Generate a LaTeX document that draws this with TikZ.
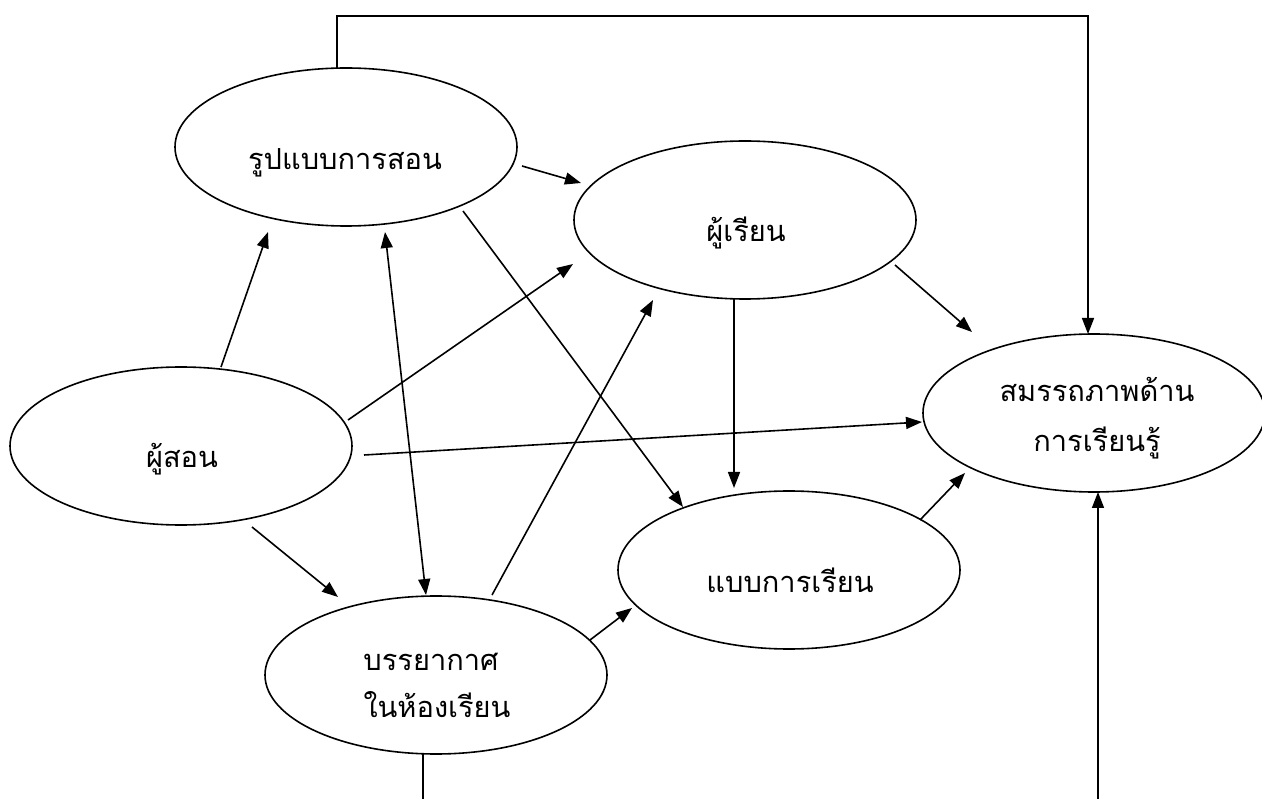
\documentclass[tikz,border=0pt]{standalone}
\usepackage{fontspec}
\newfontfamily\thaifont[Script=Thai]{Loma}
\usetikzlibrary{arrows.meta,shapes.geometric}
\begin{document}
\begin{tikzpicture}[x=1pt,y=-1pt,
  ell/.style={draw, ellipse, line width=1.6pt, minimum width=342pt, minimum height=158pt, inner sep=0pt, outer sep=0pt},
  lbl/.style={anchor=base, inner sep=0pt, font=\thaifont\fontsize{29}{36}\selectfont},
  conn/.style={line width=1.6pt},
  arr/.style={line width=1.6pt, -{Triangle[length=16pt,width=12pt]}},
  darr/.style={line width=1.6pt, {Triangle[length=16pt,width=12pt]}-{Triangle[length=16pt,width=12pt]}}]
\useasboundingbox (0,0) rectangle (1262,799);
\fill[white] (0,0) rectangle (1262,799);

% ellipses
\node[ell] (R) at (346,147) {};
\node[ell] (L) at (745,220) {};
\node[ell] (S) at (181,446) {};
\node[ell] (B) at (436,675) {};
\node[ell] (M) at (789,570) {};
\node[ell] (C) at (1094,413) {};

% labels
\node[lbl] (Rt) at (345,170) {รูปแบบการสอน};
\node[lbl] (Lt) at (746,242) {ผู้เรียน};
\node[lbl] (St) at (182,468) {ผู้สอน};
\node[lbl] (Mt) at (790,592) {แบบการเรียน};
\node[lbl] (Bt1) at (431,670) {บรรยากาศ};
\node[lbl] (Bt2) at (437,717) {ในห้องเรียน};
\node[lbl] (Ct1) at (1097,402) {สมรรถภาพด้าน};
\node[lbl] (Ct2) at (1097,452) {การเรียนรู้};

% connectors
\draw[arr] ([shift={(40,-79)}]S.center) -- ([shift={(-78,85)}]R.center);
\draw[arr] ([shift={(167,-26)}]S.center) -- ([shift={(-172,44)}]L.center);
\draw[arr] ([shift={(183,9)}]S.center) -- ([shift={(-172,9)}]C.center);
\draw[arr] ([shift={(71,81)}]S.center) -- ([shift={(-98,-78)}]B.center);
\draw[darr] ([shift={(39,85)}]R.center) -- ([shift={(-10,-80)}]B.center);
\draw[arr] ([shift={(176,19)}]R.center) -- ([shift={(-164,-37)}]L.center);
\draw[arr] ([shift={(117,64)}]R.center) -- ([shift={(-106,-63)}]M.center);
\draw[arr] ([shift={(56,-80)}]B.center) -- ([shift={(-92,80)}]L.center);
\draw[arr] ([shift={(154,-35)}]B.center) -- ([shift={(-157,38)}]M.center);
\draw[arr] ([shift={(-11,78)}]L.center) -- ([shift={(-55,-82)}]M.center);
\draw[arr] ([shift={(150,45)}]L.center) -- ([shift={(-122,-81)}]C.center);
\draw[arr] ([shift={(131,-50)}]M.center) -- ([shift={(-129,60)}]C.center);

\draw[arr, line join=miter] ([xshift=-9pt]R.north) -- ++(0,-52) -| ([xshift=-6pt]C.north);
\coordinate (bl) at (423,805);
\coordinate (br) at (1098,805);
\draw[conn] ([xshift=-13pt]B.south) -- (bl);
\draw[arr] (br) -- ([xshift=4pt]C.south);
\end{tikzpicture}
\end{document}
